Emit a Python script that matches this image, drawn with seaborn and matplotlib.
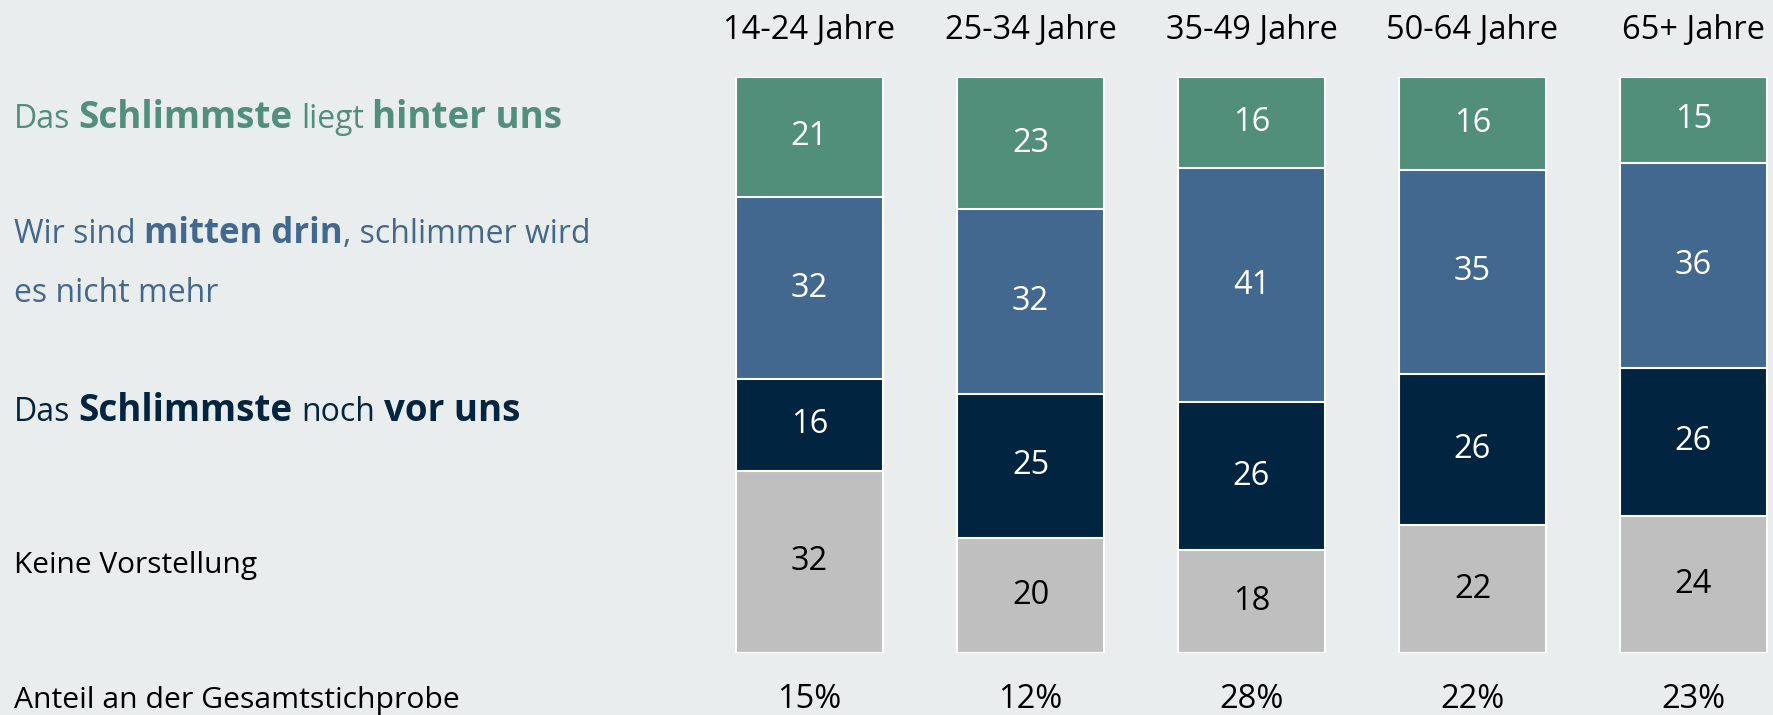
import numpy as np
import pandas as pd
import matplotlib
matplotlib.use('Agg')
import matplotlib.pyplot as plt
import seaborn as sns

# ------------------------------------------------------------
# Daten
# ------------------------------------------------------------
GRUPPEN = ['14-24 Jahre', '25-34 Jahre', '35-49 Jahre', '50-64 Jahre', '65+ Jahre']
HINTER_UNS = [21, 23, 16, 16, 15]
MITTEN_DRIN = [32, 32, 41, 35, 36]
VOR_UNS = [16, 25, 26, 26, 26]
KEINE_VORSTELLUNG = [32, 20, 18, 22, 24]
ANTEIL = ['15%', '12%', '28%', '22%', '23%']

# ------------------------------------------------------------
# Stil
# ------------------------------------------------------------
BG = '#E9EDEE'
GRUEN = '#518F7B'
BLAU = '#42688F'
NAVY = '#012440'
GRAU = '#BFBFBF'

sns.set_theme(style='white')
plt.rcParams['font.family'] = ['Open Sans', 'DejaVu Sans']
FS = 23.5

W, H = 1773, 715
fig = plt.figure(figsize=(W / 100, H / 100), dpi=100, facecolor=BG)

# Achse in Pixelkoordinaten platzieren (Balken von y=77 bis y=653)
ax_left, ax_right = 699, 1773
ax_top, ax_bottom = 77, 653
ax = fig.add_axes([ax_left / W, (H - ax_bottom) / H,
                   (ax_right - ax_left) / W, (ax_bottom - ax_top) / H])
ax.set_facecolor('none')

df = pd.DataFrame({
    'gruppe': GRUPPEN,
    'hinter': HINTER_UNS,
    'mitten': MITTEN_DRIN,
    'vor': VOR_UNS,
    'keine': KEINE_VORSTELLUNG,
})
cols = ['keine', 'vor', 'mitten', 'hinter']  # von unten nach oben
shares = df[cols].div(df[cols].sum(axis=1), axis=0) * 100
cum = shares.cumsum(axis=1)
bottoms = cum - shares

farben = {'keine': GRAU, 'vor': NAVY, 'mitten': BLAU, 'hinter': GRUEN}
textfarben = {'keine': 'black', 'vor': 'white', 'mitten': 'white', 'hinter': 'white'}

# gestapelte Balken: von oben (Gesamt) nach unten überlagern
for col in reversed(cols):
    sns.barplot(x=df['gruppe'], y=cum[col], color=farben[col], saturation=1,
                width=0.665, edgecolor='white', linewidth=1.5, errorbar=None, ax=ax)

# Werte in den Segmenten
for col in cols:
    for i in range(len(df)):
        y_mid = bottoms[col].iloc[i] + shares[col].iloc[i] / 2
        ax.text(i, y_mid, str(df[col].iloc[i]), ha='center', va='center',
                fontsize=FS, color=textfarben[col])

ax.set_xlim(-0.5, (ax_right - 809.5) / 221)
ax.set_ylim(0, 100)
ax.axis('off')

# Gruppentitel oben und Anteile unten
tr = ax.get_xaxis_transform()
for i, g in enumerate(GRUPPEN):
    ax.text(i, (ax_bottom - 39) / (ax_bottom - ax_top), g, transform=tr,
            ha='center', va='baseline', fontsize=FS, color='black', clip_on=False)
    ax.text(i, (ax_bottom - 708) / (ax_bottom - ax_top), ANTEIL[i], transform=tr,
            ha='center', va='baseline', fontsize=FS, color='black', clip_on=False)

# ------------------------------------------------------------
# Linke Beschriftungen mit gemischtem Fettdruck (fett = größer)
# ------------------------------------------------------------
renderer = fig.canvas.get_renderer()


def breite(txt, size, weight):
    t = fig.text(0, 0, txt, fontsize=size, fontweight=weight)
    w = t.get_window_extent(renderer).width
    t.remove()
    return w


def rich_text(x_px, baseline_px, teile, farbe, size_n, size_b=None):
    size_b = size_b or size_n
    space = breite('x x', size_n, 'normal') - breite('xx', size_n, 'normal')
    x = x_px
    for txt, weight in teile:
        size = size_b if weight == 'bold' else size_n
        if txt.startswith(' '):
            x += space
        t = fig.text(x / W, 1 - baseline_px / H, txt.strip(), fontsize=size,
                     fontweight=weight, color=farbe, va='baseline', ha='left')
        x += t.get_window_extent(renderer).width
        if txt.endswith(' '):
            x += space


LX = 14
rich_text(LX, 128, [('Das ', 'normal'), ('Schlimmste', 'bold'),
                    (' liegt ', 'normal'), ('hinter uns', 'bold')], GRUEN, 23, 26.5)
rich_text(LX, 243, [('Wir sind ', 'normal'), ('mitten drin', 'bold'),
                    (', schlimmer wird', 'normal')], BLAU, 23, 25)
rich_text(LX, 302, [('es nicht mehr', 'normal')], BLAU, 23)
rich_text(LX, 421, [('Das ', 'normal'), ('Schlimmste', 'bold'),
                    (' noch ', 'normal'), ('vor uns', 'bold')], NAVY, 23, 26.5)
rich_text(LX, 573, [('Keine Vorstellung', 'normal')], 'black', 21.5)
rich_text(LX, 708, [('Anteil an der Gesamtstichprobe', 'normal')], 'black', 21.7)

fig.savefig('out.png', dpi=100, facecolor=BG)
